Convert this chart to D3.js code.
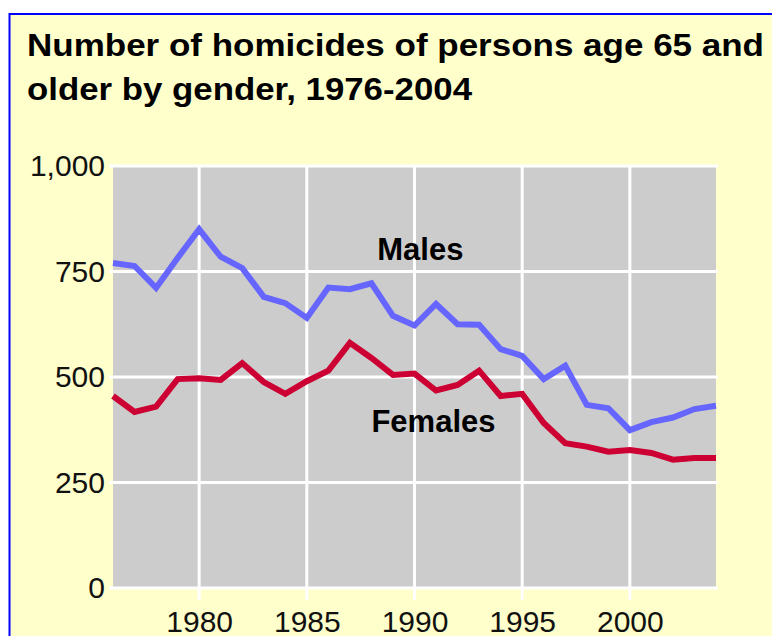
<!DOCTYPE html>
<html>
<head>
<meta charset="utf-8">
<script src="https://cdn.jsdelivr.net/npm/d3@7"></script>
<style>
  body { margin: 0; background: #ffffff; }
  svg { display: block; }
</style>
</head>
<body>
<div id="chart"></div>
<script>
// data
var years = [1976, 1977, 1978, 1979, 1980, 1981, 1982, 1983, 1984, 1985,
  1986, 1987, 1988, 1989, 1990, 1991, 1992, 1993, 1994, 1995,
  1996, 1997, 1998, 1999, 2000, 2001, 2002, 2003, 2004];
var males = [770, 763, 711, 782, 850, 785, 758, 690, 675, 640,
  712, 708, 722, 645, 622, 673, 625, 624, 566, 550,
  495, 527, 434, 426, 374, 393, 404, 424, 432];
var females = [455, 417, 430, 495, 497, 493, 533, 488, 460, 490,
  515, 581, 545, 505, 508, 468, 481, 515, 455, 460,
  391, 343, 335, 323, 327, 320, 304, 308, 308];
var yTicks = [0, 250, 500, 750, 1000];
var xTicks = [1980, 1985, 1990, 1995, 2000];
var titleLines = ["Number of homicides of persons age 65 and", "older by gender, 1976-2004"];

var svgWidth = 772;
var svgHeight = 636;

var svg = d3.select("#chart")
  .append("svg")
  .attr("width", svgWidth)
  .attr("height", svgHeight);

// yellow panel with blue border
svg.append("rect")
  .attr("x", 9.5).attr("y", 14)
  .attr("width", 800).attr("height", 700)
  .attr("fill", "#ffffcc")
  .attr("stroke", "#0000ff")
  .attr("stroke-width", 2);

var titleWidths = [737, 445];
svg.selectAll(".title").data(titleLines).enter()
  .append("text")
  .attr("class", "title")
  .attr("x", 27)
  .attr("y", (d, i) => 56 + i * 44)
  .attr("font-family", "'Liberation Sans Narrow', 'Arial Narrow', 'Liberation Sans', sans-serif")
  .attr("font-weight", "bold")
  .attr("font-size", "32px")
  .attr("textLength", (d, i) => titleWidths[i])
  .attr("lengthAdjust", "spacingAndGlyphs")
  .attr("fill", "#000")
  .text(d => d);

var x = d3.scaleLinear().domain([1976, 2004]).range([113, 716]);
var y = d3.scaleLinear().domain([0, 1000]).range([588, 166]);

// plot background
svg.append("rect")
  .attr("x", x(1976)).attr("y", y(1000))
  .attr("width", x(2004) - x(1976))
  .attr("height", y(0) - y(1000))
  .attr("fill", "#cccccc");

// grid
svg.selectAll(".hgrid").data(yTicks).enter()
  .append("line")
  .attr("x1", x(1976) - 4).attr("x2", x(2004) + 2)
  .attr("y1", d => y(d)).attr("y2", d => y(d))
  .attr("stroke", "#ffffff").attr("stroke-width", 3);

svg.selectAll(".vgrid").data(xTicks).enter()
  .append("line")
  .attr("x1", d => x(d)).attr("x2", d => x(d))
  .attr("y1", y(1000)).attr("y2", y(0) + 12)
  .attr("stroke", "#ffffff").attr("stroke-width", 3);

// axis labels
var fontTick = "'Liberation Sans', Arial, sans-serif";
var leftAxis = d3.axisLeft(y).tickValues(yTicks).tickSize(0).tickPadding(8)
  .tickFormat(d3.format(","));
var bottomAxis = d3.axisBottom(x).tickValues(xTicks).tickSize(0).tickPadding(23)
  .tickFormat(d3.format("d"));

var gy = svg.append("g")
  .attr("transform", "translate(" + x(1976) + ",0)")
  .call(leftAxis);
var gx = svg.append("g")
  .attr("transform", "translate(0," + y(0) + ")")
  .call(bottomAxis);

[gx, gy].forEach(function(g) {
  g.select(".domain").remove();
  g.selectAll("text")
    .attr("font-family", fontTick)
    .attr("font-size", "30px")
    .attr("fill", "#111");
});

// lines
var rows = years.map((yr, i) => ({year: yr, m: males[i], f: females[i]}));

svg.append("path")
  .datum(rows)
  .attr("fill", "none")
  .attr("stroke", "#6666ff")
  .attr("stroke-width", 6)
  .attr("d", d3.line().x(d => x(d.year)).y(d => y(d.m)));

svg.append("path")
  .datum(rows)
  .attr("fill", "none")
  .attr("stroke", "#cc0033")
  .attr("stroke-width", 6)
  .attr("d", d3.line().x(d => x(d.year)).y(d => y(d.f)));

// series labels
svg.append("text")
  .attr("x", x(1990.27)).attr("y", y(777))
  .attr("text-anchor", "middle")
  .attr("font-family", fontTick)
  .attr("font-weight", "bold")
  .attr("font-size", "31px")
  .text("Males");

svg.append("text")
  .attr("x", x(1990.88)).attr("y", y(370))
  .attr("text-anchor", "middle")
  .attr("font-family", fontTick)
  .attr("font-weight", "bold")
  .attr("font-size", "31px")
  .text("Females");
</script>
</body>
</html>
